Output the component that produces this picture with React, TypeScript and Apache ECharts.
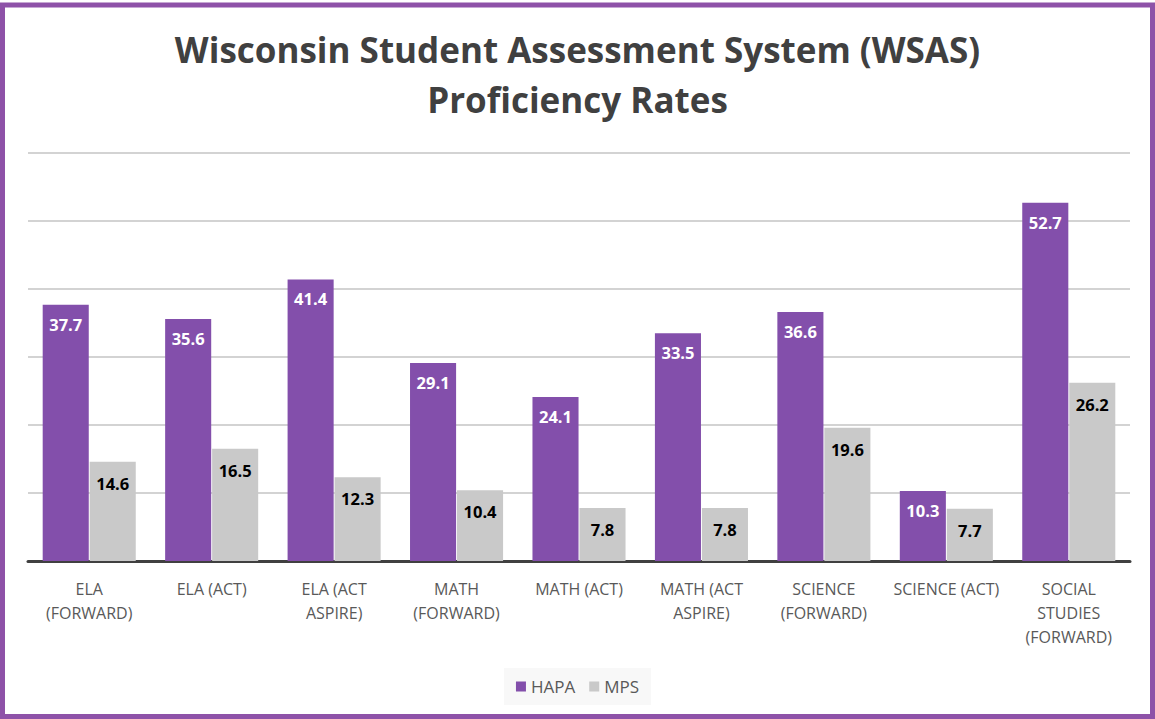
import React, { useEffect, useRef } from "react";
import * as echarts from "echarts";

const categories = [
  "ELA\n(FORWARD)",
  "ELA (ACT)",
  "ELA (ACT\nASPIRE)",
  "MATH\n(FORWARD)",
  "MATH (ACT)",
  "MATH (ACT\nASPIRE)",
  "SCIENCE\n(FORWARD)",
  "SCIENCE (ACT)",
  "SOCIAL\nSTUDIES\n(FORWARD)",
];
const hapa = [37.7, 35.6, 41.4, 29.1, 24.1, 33.5, 36.6, 10.3, 52.7];
const mps = [14.6, 16.5, 12.3, 10.4, 7.8, 7.8, 19.6, 7.7, 26.2];
const seriesNames = ["HAPA", "MPS"];
const titleText = "Wisconsin Student Assessment System (WSAS)\nProficiency Rates";

const FONT = "'Open Sans', 'Noto Sans', sans-serif";

export default function App() {
  const ref = useRef<HTMLDivElement>(null);
  useEffect(() => {
    if (!ref.current) return;
    const chart = echarts.init(ref.current, null, { renderer: "svg" });
    chart.setOption({
      animation: false,
      backgroundColor: "#ffffff",
      title: {
        text: titleText,
        left: "center",
        top: 19,
        textStyle: {
          fontFamily: FONT,
          fontSize: 35,
          fontWeight: "bold",
          color: "#404040",
          lineHeight: 50,
        },
      },
      legend: {
        data: seriesNames,
        bottom: 14,
        left: "center",
        itemWidth: 10,
        itemHeight: 10,
        itemGap: 14,
        icon: "rect",
        backgroundColor: "#f8f8f8",
        padding: [10, 12, 10, 12],
        textStyle: { fontFamily: FONT, fontSize: 17, color: "#595959" },
      },
      grid: { left: 28, right: 25, top: 153, bottom: 158, containLabel: false },
      xAxis: {
        type: "category",
        data: categories,
        axisLine: { lineStyle: { color: "#404040", width: 3 } },
        axisTick: { show: false },
        axisLabel: {
          interval: 0,
          margin: 16,
          fontFamily: FONT,
          fontSize: 16,
          lineHeight: 24,
          color: "#595959",
          verticalAlign: "top",
        },
      },
      yAxis: {
        type: "value",
        min: 0,
        max: 60,
        interval: 10,
        axisLabel: { show: false },
        axisLine: { show: false },
        axisTick: { show: false },
        splitLine: { lineStyle: { color: "#c4c4c4", width: 1.5 } },
      },
      series: [
        {
          name: seriesNames[0],
          type: "bar",
          data: hapa,
          barCategoryGap: "24%",
          barGap: "2%",
          itemStyle: { color: "#834fab" },
          label: {
            show: true,
            position: "insideTop",
            distance: 11,
            fontFamily: FONT,
            fontSize: 16.5,
            fontWeight: "bold",
            color: "#ffffff",
          },
        },
        {
          name: seriesNames[1],
          type: "bar",
          data: mps,
          barCategoryGap: "24%",
          barGap: "2%",
          itemStyle: { color: "#c9c9c9" },
          label: {
            show: true,
            position: "insideTop",
            distance: 13,
            fontFamily: FONT,
            fontSize: 16.5,
            fontWeight: "bold",
            color: "#000000",
          },
        },
      ],
      graphic: [
        {
          type: "rect",
          shape: { x: 2.5, y: 5, width: 1150, height: 711.5 },
          style: { fill: "none", stroke: "#8e52a8", lineWidth: 5 },
          silent: true,
          z: 100,
        },
      ],
    });
    return () => chart.dispose();
  }, []);
  return (
    <div
      ref={ref}
      style={{ position: "fixed", left: 0, top: 0, width: 1155, height: 719 }}
    />
  );
}
